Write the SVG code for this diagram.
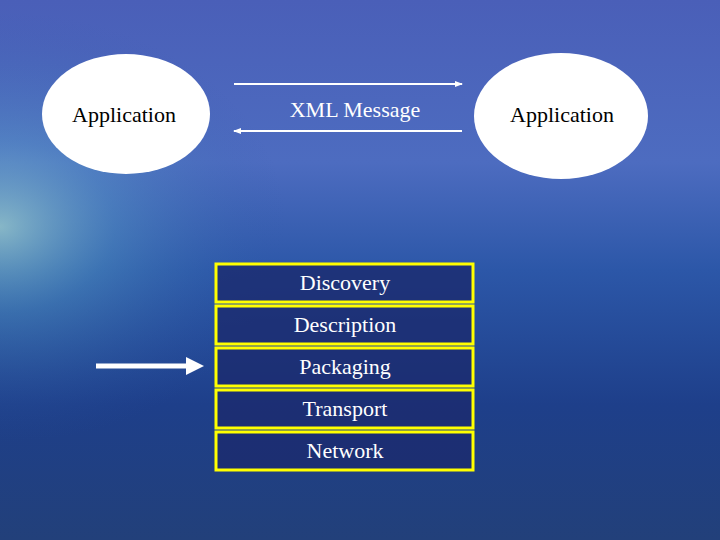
<svg xmlns="http://www.w3.org/2000/svg" width="720" height="540" viewBox="0 0 720 540">
<defs>
<linearGradient id="bg" x1="0" y1="0" x2="0" y2="1">
<stop offset="0" stop-color="#4a5fb8"/>
<stop offset="0.3" stop-color="#4d6cc0"/>
<stop offset="0.5" stop-color="#2c57a8"/>
<stop offset="0.75" stop-color="#1e3f8a"/>
<stop offset="1" stop-color="#22407a"/>
</linearGradient>
<radialGradient id="glow" cx="0" cy="0.42" r="0.4">
<stop offset="0" stop-color="#a8dcd0" stop-opacity="0.7"/>
<stop offset="0.4" stop-color="#5aa6c8" stop-opacity="0.35"/>
<stop offset="1" stop-color="#2c57a8" stop-opacity="0"/>
</radialGradient>
<marker id="ah" markerWidth="8" markerHeight="6" refX="7" refY="3" orient="auto" markerUnits="userSpaceOnUse">
<path d="M0,0 L8,3 L0,6 z" fill="#fff"/>
</marker>
<style>
text{font-family:"Liberation Serif","DejaVu Serif",serif;font-size:22px;text-anchor:middle}
.t{fill:#000}
.w{fill:#fff}
.box{fill:#1c2a6e;fill-opacity:0.8;stroke:#ffff00;stroke-width:3}
</style>
</defs>
<rect width="720" height="540" fill="url(#bg)"/>
<rect width="720" height="540" fill="url(#glow)"/>
<g id="app-left"><ellipse cx="126" cy="114" rx="84" ry="60" fill="#fff"/><text class="t" x="124" y="122">Application</text></g>
<g id="app-right"><ellipse cx="561" cy="116" rx="87" ry="63" fill="#fff"/><text class="t" x="562" y="122">Application</text></g>
<g id="xml-label"><text class="w" x="355" y="117">XML Message</text></g>
<g id="discovery"><rect class="box" x="216" y="264" width="257" height="38"/><text class="w" x="345" y="290">Discovery</text></g>
<g id="description"><rect class="box" x="216" y="306" width="257" height="38"/><text class="w" x="345" y="332">Description</text></g>
<g id="packaging"><rect class="box" x="216" y="348" width="257" height="38"/><text class="w" x="345" y="374">Packaging</text></g>
<g id="transport"><rect class="box" x="216" y="390" width="257" height="38"/><text class="w" x="345" y="416">Transport</text></g>
<g id="network"><rect class="box" x="216" y="432" width="257" height="38"/><text class="w" x="345" y="458">Network</text></g>
<g id="connectors">
<line x1="234" y1="84" x2="462" y2="84" stroke="#fff" stroke-width="2" marker-end="url(#ah)"/>
<line x1="462" y1="131" x2="234" y2="131" stroke="#fff" stroke-width="2" marker-end="url(#ah)"/>
<line x1="96" y1="366" x2="188" y2="366" stroke="#fff" stroke-width="5"/>
<path d="M186,357 L204,366 L186,375 z" fill="#fff"/>
</g>
</svg>
